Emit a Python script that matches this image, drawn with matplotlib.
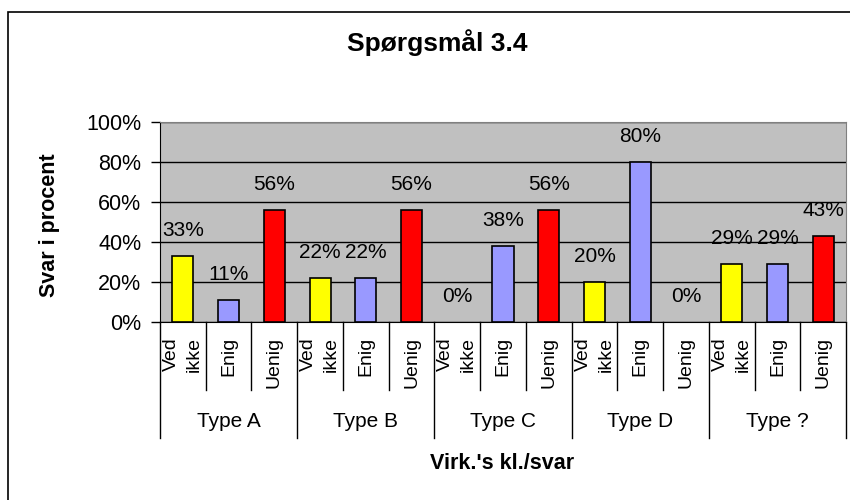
import matplotlib.pyplot as plt
from matplotlib.patches import Rectangle
from matplotlib.transforms import blended_transform_factory

plt.rcParams['font.family'] = ['Liberation Sans', 'DejaVu Sans']

# data
groups = ["Type A", "Type B", "Type C", "Type D", "Type ?"]
answers = ["Ved\nikke", "Enig", "Uenig"]
ved_ikke = [33, 22, 0, 20, 29]
enig = [11, 22, 38, 80, 29]
uenig = [56, 56, 56, 0, 43]
colors = ["#FFFF00", "#9999FF", "#FF0000"]

W, H = 850, 500
fig = plt.figure(figsize=(W / 100, H / 100), dpi=100)
ax = fig.add_axes([160 / W, 178 / H, 686 / W, 200 / H])
ax.set_facecolor("#C0C0C0")

series = [ved_ikke, enig, uenig]
pos = 0
for g in range(len(groups)):
    for k in range(len(answers)):
        v = series[k][g]
        # zero bars show no outline in the original
        ax.bar(pos, v, width=0.46, color=colors[k], edgecolor="black",
               linewidth=1.2 if v > 0 else 0, zorder=3)
        ax.annotate(f"{v}%", (pos, v), xytext=(0, 26), textcoords="offset pixels",
                    ha="center", va="center", fontsize=15, zorder=4)
        pos += 1

n = len(groups) * len(answers)
ax.set_xlim(-0.5, n - 0.5)
ax.set_ylim(0, 100)
ax.set_yticks(range(0, 101, 20))
ax.set_yticklabels([f"{t}%" for t in range(0, 101, 20)], fontsize=15.5)
ax.yaxis.grid(True, color="black", linewidth=1, zorder=1)
ax.set_axisbelow(True)
ax.tick_params(axis="y", length=6.5, width=1, direction="out", pad=7)
ax.set_xticks([])
for s in ["top", "right"]:
    ax.spines[s].set_color("#808080")
ax.spines["left"].set_color("black")
ax.spines["bottom"].set_color("black")

# multi-level category axis
tr = blended_transform_factory(ax.transData, ax.transAxes)
for i in range(n):
    ax.text(i, -0.075, answers[i % 3], rotation=90, ha="center", va="top",
            multialignment="right", fontsize=14, linespacing=1.45,
            transform=tr, clip_on=False)
for i in range(n + 1):
    b = i - 0.5
    depth = -0.58 if i % 3 == 0 else -0.34
    ax.plot([b, b], [0, depth], color="black", linewidth=1, transform=tr, clip_on=False)
for g, name in enumerate(groups):
    ax.text(g * 3 + 1, -0.525, name, ha="center", va="baseline", fontsize=15,
            transform=tr, clip_on=False)

fig.text(502 / W, 1 - 469 / H, "Virk.'s kl./svar", ha="center", va="baseline",
         fontsize=15.5, fontweight="bold")
fig.text(50 / W, 1 - 225 / H, "Svar i procent", rotation=90, ha="center", va="center",
         fontsize=15.5, fontweight="bold")
fig.text(437 / W, 1 - 51 / H, "Spørgsmål 3.4", ha="center", va="baseline",
         fontsize=19, fontweight="bold")

# outer chart frame (only left and top edges visible)
fig.patches.append(Rectangle((8 / W, -0.1), 1.0, (H - 12) / H + 0.1, transform=fig.transFigure,
                             fill=False, edgecolor="black", linewidth=1.2))

fig.savefig("out.png", dpi=100)
